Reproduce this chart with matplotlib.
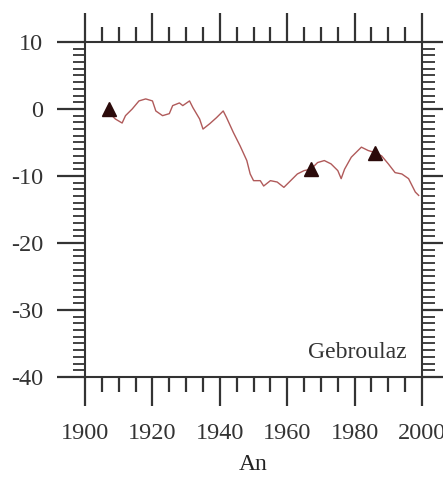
import numpy as np
import matplotlib.pyplot as plt
from matplotlib.ticker import MultipleLocator

plt.rcParams['font.family'] = ['Liberation Serif', 'DejaVu Serif']
plt.rcParams['axes.unicode_minus'] = False

years = [1907, 1909, 1911, 1912, 1914, 1916, 1918, 1920, 1921, 1923, 1925,
         1926, 1928, 1929, 1931, 1932, 1934, 1935, 1937, 1939, 1941, 1942,
         1944, 1946, 1948, 1949, 1950, 1952, 1953, 1955, 1957, 1959, 1961,
         1963, 1965, 1967, 1969, 1971, 1973, 1975, 1976, 1977, 1979, 1981,
         1982, 1984, 1986, 1988, 1990, 1992, 1994, 1996, 1998, 1999]
balance = [-0.5, -1.5, -2.1, -1.0, 0.0, 1.2, 1.5, 1.2, -0.3, -1.0, -0.7,
           0.5, 0.9, 0.5, 1.2, 0.2, -1.5, -3.0, -2.2, -1.3, -0.3, -1.3,
           -3.5, -5.5, -7.7, -9.7, -10.7, -10.7, -11.5, -10.7, -10.9, -11.7, -10.7,
           -9.7, -9.2, -9.0, -8.0, -7.7, -8.2, -9.2, -10.4, -9.0, -7.2, -6.2,
           -5.7, -6.2, -6.5, -7.0, -8.2, -9.5, -9.7, -10.4, -12.4, -12.9]

mark_years = [1907, 1967, 1986]
mark_vals = [0.0, -9.0, -6.5]

fig = plt.figure(figsize=(4.43, 4.80), dpi=100)
ax = fig.add_axes([0.192, 0.2146, 0.7607, 0.698])

ax.plot(years, balance, color='#b05a5a', lw=1.0)
ax.plot(mark_years, mark_vals, '^', color='#2b0a0a', ms=10, mec='#2b0a0a')

ax.set_xlim(1900, 2000)
ax.set_ylim(-40, 10)
ax.xaxis.set_major_locator(MultipleLocator(20))
ax.xaxis.set_minor_locator(MultipleLocator(5))
ax.yaxis.set_major_locator(MultipleLocator(10))
ax.yaxis.set_minor_locator(MultipleLocator(1))

for s in ax.spines.values():
    s.set_linewidth(1.5)
    s.set_color('#333333')

ax.tick_params(axis='both', which='both', direction='out', top=True, right=True,
               color='#333333', width=1.6)
ax.tick_params(axis='x', which='major', length=21, pad=12, labelsize=17.5)
ax.tick_params(axis='x', which='minor', length=11)
ax.tick_params(axis='y', which='major', length=20, pad=10, labelsize=17.5)
ax.tick_params(axis='y', which='minor', length=9, width=1.3)
ax.tick_params(labeltop=False, labelright=False, labelcolor='#333333')

ax.set_xlabel('An', fontsize=17, labelpad=7, color='#222222')
ax.text(1995.5, -36.3, 'Gebroulaz', ha='right', va='center', fontsize=17, color='#333333')

fig.savefig('out.png', dpi=100)
